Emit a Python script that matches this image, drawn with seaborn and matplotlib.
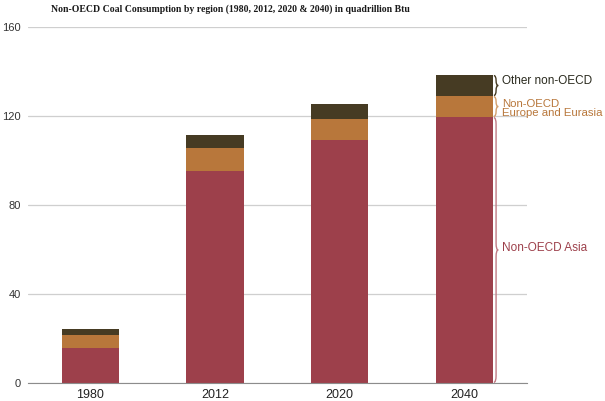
import matplotlib
matplotlib.use('Agg')
import matplotlib.pyplot as plt
from matplotlib.path import Path
from matplotlib.patches import PathPatch
import seaborn as sns
import pandas as pd

YEARS = ['1980', '2012', '2020', '2040']
ASIA = [15.5, 95.3, 109.0, 119.5]
EUROPE = [6.0, 10.2, 9.6, 9.4]
OTHER = [2.6, 5.7, 6.6, 9.5]

RED = '#9d404b'
ORANGE = '#b8773b'
DARK = '#463b23'

df = pd.DataFrame({'Year': YEARS, 'Asia': ASIA, 'Europe': EUROPE, 'Other': OTHER})
df['AsiaEurope'] = df['Asia'] + df['Europe']
df['Total'] = df['AsiaEurope'] + df['Other']


def draw_brace(ax, x0, y0, y1, w, color):
    mid = (y0 + y1) / 2
    r = min((y1 - y0) / 4, 3)
    xm = x0 + w / 2
    verts = [(x0, y0), (xm, y0), (xm, y0 + r), (xm, mid - r),
             (xm, mid), (x0 + w, mid), (xm, mid), (xm, mid + r),
             (xm, y1 - r), (xm, y1), (x0, y1)]
    codes = [Path.MOVETO, Path.CURVE3, Path.CURVE3, Path.LINETO,
             Path.CURVE3, Path.CURVE3, Path.CURVE3, Path.CURVE3,
             Path.LINETO, Path.CURVE3, Path.CURVE3]
    ax.add_patch(PathPatch(Path(verts, codes), fill=False, edgecolor=color, lw=1.0))


sns.set_style('white')
plt.rcParams['font.family'] = ['Liberation Sans', 'DejaVu Sans']

fig = plt.figure(figsize=(6.05, 4.01), dpi=100)
ax = fig.add_axes([0.046, 0.045, 0.825, 0.888])

bar_w = 0.46
sns.barplot(data=df, x='Year', y='Total', color=DARK, width=bar_w, saturation=1, linewidth=0, ax=ax)
sns.barplot(data=df, x='Year', y='AsiaEurope', color=ORANGE, width=bar_w, saturation=1, linewidth=0, ax=ax)
sns.barplot(data=df, x='Year', y='Asia', color=RED, width=bar_w, saturation=1, linewidth=0, ax=ax)

ax.set_xlim(-0.5, 3.5)
ax.set_ylim(0, 160)
ax.set_yticks([0, 40, 80, 120, 160])
ax.yaxis.grid(True, color='#cfcfcf', lw=0.9)
ax.set_axisbelow(True)
for s in ['top', 'right', 'left']:
    ax.spines[s].set_visible(False)
ax.spines['bottom'].set_color('#8c8c8c')
ax.set_xlabel('')
ax.set_ylabel('')
ax.tick_params(axis='y', length=0, pad=5, labelsize=8, labelcolor='#333333')
ax.tick_params(axis='x', which='major', length=0, pad=4, labelsize=9, labelcolor='#222222')
ax.set_xticks([-0.5, 0.5, 1.5, 2.5, 3.5], minor=True)
ax.tick_params(axis='x', which='minor', length=4, color='#8c8c8c', direction='out')

# braces and labels beside the 2040 bar
last = len(YEARS) - 1
bx = last + bar_w / 2 + 0.005
bw = 0.035
a, e, t = ASIA[last], df['AsiaEurope'][last], df['Total'][last]
draw_brace(ax, bx, 0.3, a - 0.3, bw, '#c07a84')
draw_brace(ax, bx, a + 0.3, e - 0.3, bw, '#d2a06e')
draw_brace(ax, bx, e + 0.3, t - 0.3, bw, DARK)
tx = bx + bw + 0.03
ax.text(tx, (e + t) / 2 + 2.0, 'Other non-OECD', color='#2a2a1e', fontsize=8.5, va='center')
ax.text(tx, (a + e) / 2 - 0.8, 'Non-OECD\nEurope and Eurasia', color=ORANGE, fontsize=8.2,
        va='center', linespacing=0.95)
ax.text(tx, a / 2 + 1.0, 'Non-OECD Asia', color=RED, fontsize=8.5, va='center')

fig.text(0.381, 0.978, 'Non-OECD Coal Consumption by region (1980, 2012, 2020 & 2040) in quadrillion Btu',
         ha='center', va='center', fontsize=7.0, fontweight='bold', family='Liberation Serif',
         color='#1a1a1a')

fig.savefig('out.png', dpi=100)
